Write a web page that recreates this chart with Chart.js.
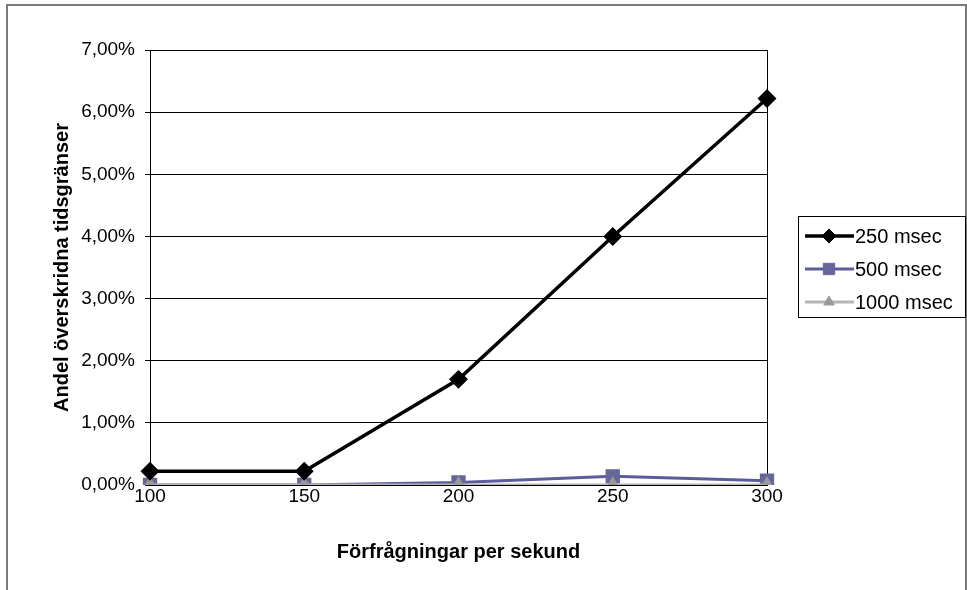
<!DOCTYPE html>
<html>
<head>
<meta charset="utf-8">
<script src="https://cdn.jsdelivr.net/npm/chart.js@4/dist/chart.umd.min.js"></script>
<style>
  html, body { margin: 0; padding: 0; background: #fff; }
  #wrap { width: 967px; height: 590px; position: relative; }
</style>
</head>
<body>
<div id="wrap"><canvas id="chart"></canvas></div>
<script>
// requests per second
const categories = ["100", "150", "200", "250", "300"];
// share of exceeded time limits, in percent
const series250 = [0.22, 0.22, 1.70, 4.00, 6.22];
const series500 = [0.00, 0.00, 0.04, 0.14, 0.07];
const series1000 = [0.00, 0.00, 0.00, 0.00, 0.00];
const seriesNames = ["250 msec", "500 msec", "1000 msec"];

const fontName = "'Liberation Sans', Arial, sans-serif";

// outer frame of the picture
const framePlugin = {
    id: "frame",
    beforeDraw(chart) {
        const ctx = chart.ctx;
        ctx.save();
        ctx.fillStyle = "#fff";
        ctx.fillRect(0, 0, chart.width, chart.height);
        ctx.strokeStyle = "#7a7a7a";
        ctx.lineWidth = 2;
        ctx.strokeRect(7, 5, 959, 620);
        ctx.restore();
    }
};

// excel-like legend: line sample with the marker in the middle
const legendPlugin = {
    id: "boxLegend",
    afterDraw(chart) {
        const ctx = chart.ctx;
        const box = { x: 798, y: 216, w: 167, h: 101 };
        ctx.save();
        ctx.strokeStyle = "#000";
        ctx.lineWidth = 1;
        ctx.strokeRect(box.x + 0.5, box.y + 0.5, box.w, box.h);
        ctx.font = "20px " + fontName;
        ctx.textBaseline = "middle";
        chart.data.datasets.forEach((ds, i) => {
            const y = box.y + 20 + i * 33;
            ctx.strokeStyle = ds.borderColor;
            ctx.lineWidth = ds.borderWidth;
            ctx.beginPath();
            ctx.moveTo(box.x + 7, y);
            ctx.lineTo(box.x + 56, y);
            ctx.stroke();
            ctx.fillStyle = ds.pointBackgroundColor;
            ctx.strokeStyle = ds.pointBorderColor;
            ctx.lineWidth = 1;
            Chart.helpers.drawPoint(ctx, {
                pointStyle: ds.pointStyle,
                radius: ds.pointRadius,
                rotation: 0,
                borderWidth: 1
            }, box.x + 31, y);
            ctx.fillStyle = "#000";
            ctx.fillText(ds.label, box.x + 57, y + 1);
        });
        ctx.restore();
    }
};

function pct(v) {
    return v.toFixed(2).replace(".", ",") + "%";
}

new Chart(document.getElementById("chart"), {
    type: "line",
    data: {
        labels: categories,
        datasets: [
            {
                label: seriesNames[0],
                data: series250,
                borderColor: "#000",
                borderWidth: 3.5,
                pointStyle: "rectRot",
                pointRadius: 7,
                pointBackgroundColor: "#000",
                pointBorderColor: "#000",
                order: 0
            },
            {
                label: seriesNames[1],
                data: series500,
                borderColor: "#5c5c9c",
                borderWidth: 3,
                pointStyle: "rect",
                pointRadius: 8,
                pointBackgroundColor: "#666699",
                pointBorderColor: "#666699",
                order: 2
            },
            {
                label: seriesNames[2],
                data: series1000,
                borderColor: "#b4b4b4",
                borderWidth: 3,
                pointStyle: "triangle",
                pointRadius: 6,
                pointBackgroundColor: "#999",
                pointBorderColor: "#999",
                order: 1
            }
        ]
    },
    options: {
        responsive: true,
        maintainAspectRatio: false,
        animation: false,
        layout: { padding: { top: 50, right: 200, left: 0, bottom: 0 } },
        plugins: {
            legend: { display: false },
            tooltip: { enabled: false }
        },
        scales: {
            x: {
                offset: false,
                grid: {
                    drawTicks: false,
                    color: ctx => (ctx.index === 0 || ctx.index === categories.length - 1) ? "#000" : "rgba(0,0,0,0)",
                    lineWidth: 1
                },
                border: { color: "#000", width: 1 },
                ticks: {
                    color: "#000",
                    font: { family: fontName, size: 19 },
                    padding: 0,
                    maxRotation: 0
                },
                title: {
                    display: true,
                    text: "Förfrågningar per sekund",
                    color: "#000",
                    font: { family: fontName, size: 20, weight: "bold" },
                    padding: { top: 4, bottom: 26 }
                },
                afterFit: scale => { scale.height = 105; }
            },
            y: {
                min: 0,
                max: 7,
                grid: {
                    color: "#000",
                    lineWidth: 1,
                    tickLength: 5
                },
                border: { color: "#000", width: 1 },
                ticks: {
                    stepSize: 1,
                    color: "#000",
                    font: { family: fontName, size: 19 },
                    padding: 10,
                    callback: v => pct(v)
                },
                title: {
                    display: true,
                    text: "Andel överskridna tidsgränser",
                    color: "#000",
                    font: { family: fontName, size: 20, weight: "bold" },
                    padding: { top: 50, bottom: 0 }
                },
                afterFit: scale => { scale.width = 150; }
            }
        }
    },
    plugins: [framePlugin, legendPlugin]
});
</script>
</body>
</html>
